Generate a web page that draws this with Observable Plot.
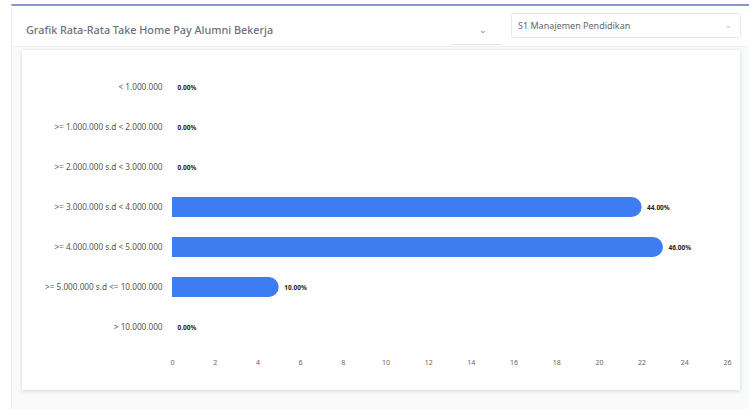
<!DOCTYPE html>
<html>
<head>
<meta charset="utf-8">
<script src="https://cdn.jsdelivr.net/npm/d3@7"></script>
<script src="https://cdn.jsdelivr.net/npm/@observablehq/plot@0.6"></script>
<style>
  html, body { margin: 0; padding: 0; background: #ffffff; width: 749px; height: 409px; overflow: hidden; font-family: "Noto Sans", "Open Sans", sans-serif; }
  #panel { position: absolute; left: 11px; top: 4px; width: 738px; height: 405px; border-top: 2px solid #8696d2; border-left: 1px solid #ececec; background: #f8fafc; box-sizing: border-box; }
  #header { position: absolute; left: 0; top: 0; width: 738px; height: 40px; background: #ffffff; border-bottom: 1px solid #f0f0f0; }
  #title { position: absolute; left: 14px; top: 16px; font-size: 10.8px; color: #6c7080; font-weight: 500; }
  #chev { position: absolute; left: 467px; top: 17px; font-size: 9px; color: #888; }
  #uline { position: absolute; left: 440px; top: 38px; width: 50px; height: 1px; background: #e2e2e2; }
  #select { position: absolute; left: 499px; top: 7px; width: 230px; height: 25px; border: 1px solid #e8e8e8; border-radius: 3px; background: #fff; box-sizing: border-box; }
  #select .txt { position: absolute; left: 6px; top: 5px; font-size: 9px; color: #666; }
  #select .arr { position: absolute; right: 8px; top: 5px; font-size: 8px; color: #bbb; }
  #card { position: absolute; left: 22px; top: 50px; width: 718px; height: 340px; background: #ffffff; box-shadow: 0 1px 4px rgba(0,0,0,0.16); }
  #chart { position: absolute; left: 0; top: 5px; }
</style>
</head>
<body>
<div id="panel">
  <div id="header">
    <div id="title">Grafik Rata-Rata Take Home Pay Alumni Bekerja</div>
    <div id="chev">&#8964;</div>
    <div id="uline"></div>
    <div id="select"><span class="txt">S1 Manajemen Pendidikan</span><span class="arr">&#8964;</span></div>
  </div>
</div>
<div id="card"><div id="chart"></div></div>
<script>
const categories = [
  "< 1.000.000",
  ">= 1.000.000 s.d < 2.000.000",
  ">= 2.000.000 s.d < 3.000.000",
  ">= 3.000.000 s.d < 4.000.000",
  ">= 4.000.000 s.d < 5.000.000",
  ">= 5.000.000 s.d <= 10.000.000",
  "> 10.000.000"
];
const counts = [0, 0, 0, 22, 23, 5, 0];
const percentLabels = ["0.00%", "0.00%", "0.00%", "44.00%", "46.00%", "10.00%", "0.00%"];
const xTicks = [0, 2, 4, 6, 8, 10, 12, 14, 16, 18, 20, 22, 24, 26];

const data = categories.map((c, i) => ({ category: c, count: counts[i], half: counts[i] / 2, label: percentLabels[i] }));
const nonZero = data.filter(d => d.count > 0);

const barColor = "#3e7cf1";

const chart = Plot.plot({
  width: 718,
  height: 330,
  marginLeft: 150,
  marginRight: 13,
  marginTop: 2,
  marginBottom: 28,
  style: { fontFamily: "'Noto Sans', sans-serif", background: "transparent" },
  x: { domain: [0, 26], ticks: xTicks },
  y: { domain: categories, padding: 0.5, label: null },
  marks: [
    Plot.barX(nonZero, { y: "category", x: "count", fill: barColor, rx: 10 }),
    Plot.barX(nonZero, { y: "category", x: "half", fill: barColor }),
    Plot.text(data, { y: "category", x: "count", text: "label", textAnchor: "start", dx: 5, fontSize: 6.5, fontWeight: "bold", fill: "#222" }),
    Plot.axisY({ tickSize: 0, tickPadding: 10, fontSize: 8.2, color: "#555", label: null }),
    Plot.axisX({ ticks: xTicks, tickSize: 0, tickPadding: 3, fontSize: 7, color: "#666", label: null })
  ]
});
document.getElementById("chart").appendChild(chart);
</script>
</body>
</html>
